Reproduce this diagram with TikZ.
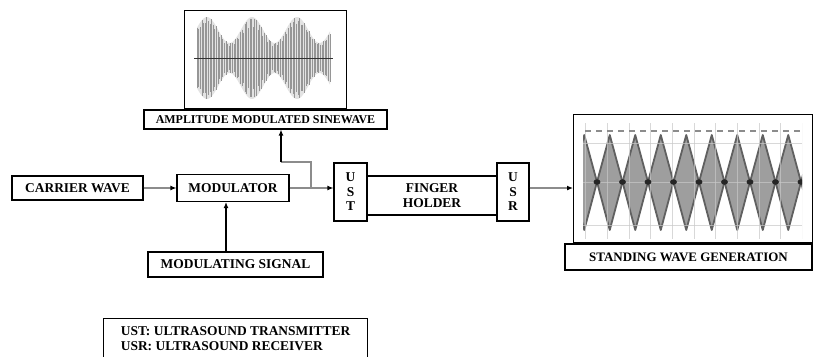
\documentclass[tikz,border=0pt]{standalone}
\usepackage{fontspec}
\setmainfont{Liberation Serif}
\usetikzlibrary{arrows.meta,positioning,calc}
\definecolor{lngray}{RGB}{140,140,140}
\definecolor{wvgray}{RGB}{150,150,150}
\definecolor{lobegray}{RGB}{158,158,158}
\definecolor{gridgray}{RGB}{200,200,200}
\tikzset{
  blk/.style={rectangle, draw=black, line width=1.1bp, inner sep=0pt, align=center,
              font=\fontsize{13.5}{14.5}\selectfont\bfseries},
  garr/.style={-{Latex[length=6bp,width=5bp,color=black]}, line width=1.5bp, lngray},
  barr/.style={-{Latex[length=6bp,width=5bp]}, line width=1.2bp, black},
}

\begin{document}
\begin{tikzpicture}[x=1bp,y=-1bp]
        \useasboundingbox (0,0) rectangle (815,356);
        % blocks of the chain
        \node[blk, minimum width=131bp, minimum height=24bp](carrier) at (77.5,188){CARRIER WAVE};
        \node[blk, minimum width=112bp, minimum height=27bp](mod) at (233,188){MODULATOR};
        \node[blk, minimum width=175bp, minimum height=25bp](msig) at (235.5,264.5){MODULATING SIGNAL};
        \node[blk, minimum width=33bp, minimum height=58bp](ust) at (350.5,192){U\\S\\T};
        \node[blk, minimum width=130bp, minimum height=39bp](finger) at (432,195.5){FINGER\\HOLDER};
        \node[blk, minimum width=32bp, minimum height=58bp](usr) at (513,192){U\\S\\R};
        \node[blk, minimum width=243bp, minimum height=19bp, font=\fontsize{12}{13}\selectfont\bfseries](ams) at (265.5,119.5){AMPLITUDE MODULATED SINEWAVE};
        \node[blk, minimum width=247bp, minimum height=26bp, font=\fontsize{13}{14}\selectfont\bfseries](swg) at (688.5,257){STANDING WAVE GENERATION};
        \node[blk, minimum width=264bp, minimum height=40bp, align=left, anchor=north west, inner xsep=9bp](legend) at (103,318){UST: ULTRASOUND TRANSMITTER\\USR: ULTRASOUND RECEIVER};

        % picture of the AM wave
        \node[draw=black, line width=1.1bp, minimum width=162bp, minimum height=98bp, inner sep=0pt, anchor=south](amimg) at (ams.north){};
        \fill[gray!22] plot[domain=197:330,samples=80] (\x,{58-(28+13*cos((\x-207)*8))})
          -- plot[domain=330:197,samples=80] (\x,{58+(28+13*cos((\x-207)*8))}) -- cycle;
        \foreach \x in {197,198.6,...,330}{
          \pgfmathsetmacro\amp{(28+13*cos((\x-207)*8))*(0.75+0.25*abs(sin(\x*37)))}
          \draw[wvgray, line width=0.6bp] (\x,58-\amp) -- (\x,58+\amp);
        }
        \draw[gray!40!black, line width=0.8bp] (194,58) -- (333,58);

        % picture of the standing wave
        \node[draw=black, line width=1.1bp, minimum width=239bp, minimum height=128bp, inner sep=0pt, anchor=south west](swimg) at (swg.north west -| 573,0){};
        \begin{scope}
          \clip (583,123) rectangle (802,239);
          \foreach \i in {-1,...,8}{
            \pgfmathsetmacro\ka{597+25.5*\i}
            \pgfmathsetmacro\km{\ka+12.75}
            \pgfmathsetmacro\kb{\ka+25.5}
            \fill[lobegray] (\ka,182) -- (\km,135) -- (\kb,182) -- (\km,230) -- cycle;
            \draw[gray!75!black, line width=1.8bp, line join=round] (\ka,182) -- (\km,135) -- (\kb,182) -- (\km,230) -- cycle;
          }
          \foreach \y in {143,182,225}{\draw[gridgray, line width=0.6bp, opacity=0.7] (583,\y) -- (802,\y);}
          \foreach \x in {585,607,629,650,672,694,715,737,759,780,802}{\draw[gridgray, line width=0.6bp, opacity=0.7] (\x,123) -- (\x,239);}
          \draw[lngray, line width=1.6bp, dash pattern=on 6bp off 5bp] (585,131) -- (802,131);
          \foreach \i in {0,...,8}{\fill[black!85] (597+25.5*\i,182) ellipse (3.4bp and 2.8bp);}
        \end{scope}

        % connectors
        \coordinate (br) at (311,188);
        \coordinate (bend) at (281,162);
        \draw[garr](carrier.east |- mod.west) -- (mod.west);
        \draw[garr](mod.east) -- (mod.east -| ust.west);
        \draw[lngray, line width=1.5bp](br) |- (bend);
        \draw[barr](bend) -- (bend |- ams.south);
        \draw[barr]([xshift=-9.5bp]msig.north) -- ([xshift=-9.5bp]msig.north |- mod.south);
        \draw[garr](mod.east -| usr.east) -- (mod.east -| swimg.west);
    \end{tikzpicture}
\end{document}
